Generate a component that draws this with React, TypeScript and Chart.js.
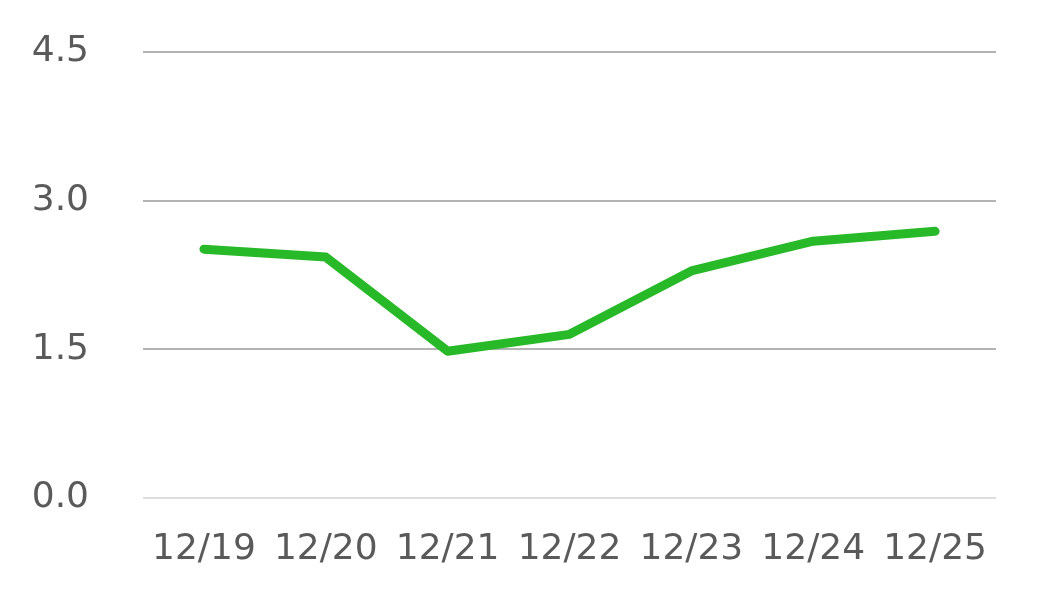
import React, { useEffect, useRef } from "react";
import { Chart, registerables } from "chart.js";

Chart.register(...registerables);

const categories = ["12/19", "12/20", "12/21", "12/22", "12/23", "12/24", "12/25"];
const values = [2.51, 2.43, 1.48, 1.65, 2.29, 2.59, 2.69];
const yTicks = [0, 1.5, 3.0, 4.5];

export default function App() {
  const ref = useRef<HTMLCanvasElement | null>(null);
  useEffect(() => {
    document.body.style.margin = "0";
    const ctx = ref.current!;
    const chart = new Chart(ctx, {
      type: "line",
      data: {
        labels: categories,
        datasets: [
          {
            data: values,
            borderColor: "#27b927",
            borderWidth: 9,
            borderCapStyle: "round",
            borderJoinStyle: "round",
            pointRadius: 0,
            tension: 0,
            fill: false,
          },
        ],
      },
      options: {
        responsive: false,
        animation: false,
        layout: { padding: { left: 32, right: 58, top: 52, bottom: 13 } },
        plugins: { legend: { display: false }, tooltip: { enabled: false } },
        scales: {
          x: {
            offset: true,
            grid: { display: false, drawTicks: false },
            border: { display: false },
            ticks: {
              color: "#5a5a5a",
              font: { family: "DejaVu Sans", size: 36 },
              padding: 30,
              maxRotation: 0,
              autoSkip: false,
            },
          },
          y: {
            min: 0,
            max: 4.5,
            afterBuildTicks: (axis: any) => {
              axis.ticks = yTicks.map((v) => ({ value: v }));
            },
            afterFit: (axis: any) => {
              axis.width = 111;
              axis.paddingTop = 0;
              axis.paddingBottom = 0;
            },
            grid: {
              drawTicks: false,
              lineWidth: 2,
              color: (c: any) => (c.tick && c.tick.value === 0 ? "#dddddd" : "#b3b3b3"),
            },
            border: { display: false },
            ticks: {
              color: "#5a5a5a",
              font: { family: "DejaVu Sans", size: 36 },
              padding: 54,
              callback: (v: any) => Number(v).toFixed(1),
            },
          },
        },
      },
    });
    return () => chart.destroy();
  }, []);
  return (
    <div style={{ position: "absolute", left: 0, top: 0, width: 1054, height: 614 }}>
      <canvas ref={ref} width={1054} height={614} style={{ display: "block" }} />
    </div>
  );
}
